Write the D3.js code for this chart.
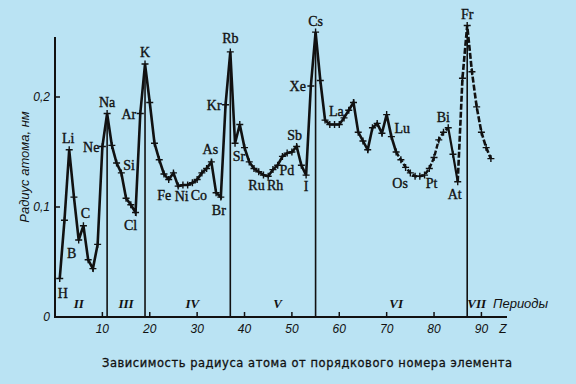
<!DOCTYPE html>
<html>
<head>
<meta charset="utf-8">
<script src="https://cdn.jsdelivr.net/npm/d3@7"></script>
<style>
  body { margin: 0; background: #bae3f3; }
  svg { display: block; }
  .el { font-family: "Liberation Serif", serif; font-size: 14px; fill: #111; stroke: #111; stroke-width: 0.35; }
  .tick { font-family: "Liberation Sans", sans-serif; font-style: italic; font-size: 12px; fill: #111; }
  .roman { font-family: "Liberation Serif", serif; font-style: italic; font-weight: bold; font-size: 13px; fill: #111; }
</style>
</head>
<body>
<svg width="576" height="384"></svg>
<script>
const width = 576;
const height = 384;

// atomic number Z = 1..92, radius in nm
const symbols = ["H","He","Li","Be","B","C","N","O","F","Ne",
  "Na","Mg","Al","Si","P","S","Cl","Ar","K","Ca",
  "Sc","Ti","V","Cr","Mn","Fe","Co","Ni","Cu","Zn",
  "Ga","Ge","As","Se","Br","Kr","Rb","Sr","Y","Zr",
  "Nb","Mo","Tc","Ru","Rh","Pd","Ag","Cd","In","Sn",
  "Sb","Te","I","Xe","Cs","Ba","La","Ce","Pr","Nd",
  "Pm","Sm","Eu","Gd","Tb","Dy","Ho","Er","Tm","Yb",
  "Lu","Hf","Ta","W","Re","Os","Ir","Pt","Au","Hg",
  "Tl","Pb","Bi","Po","At","Rn","Fr","Ra","Ac","Th",
  "Pa","U"];
const radius = [0.035,0.088,0.152,0.109,0.070,0.083,0.052,0.044,0.066,0.155,
  0.185,0.156,0.140,0.131,0.108,0.102,0.095,0.185,0.230,0.195,
  0.158,0.143,0.130,0.125,0.131,0.119,0.120,0.120,0.122,0.125,
  0.131,0.135,0.141,0.113,0.109,0.193,0.241,0.158,0.175,0.154,
  0.141,0.135,0.132,0.129,0.128,0.134,0.138,0.146,0.149,0.150,
  0.155,0.138,0.129,0.210,0.259,0.215,0.179,0.175,0.175,0.175,
  0.181,0.188,0.195,0.168,0.160,0.152,0.172,0.176,0.167,0.184,
  0.164,0.150,0.143,0.136,0.131,0.128,0.128,0.129,0.135,0.145,
  0.161,0.168,0.172,0.148,0.123,0.217,0.265,0.223,0.191,0.168,
  0.154,0.144];

const labelled = ["H","Li","B","C","Ne","Na","Si","Cl","Ar","K","Fe","Ni","Co","As","Br","Kr",
  "Rb","Sr","Ru","Rh","Pd","Sb","I","Xe","Cs","La","Lu","Os","Pt","Bi","At","Fr"];
const alkali = [11, 19, 37, 55, 87];
const periods = ["II","III","IV","V","VI","VII"];
const periodZ = [5, 15, 29, 47, 72, 89];
const xTicks = [10, 20, 30, 40, 50, 60, 70, 80, 90];
const yTicks = [0, 0.1, 0.2];

const data = radius.map((r, i) => ({ z: i + 1, r: r, s: symbols[i] }));

const x = d3.scaleLinear().domain([0, 95.4]).range([55, 507]);
const y = d3.scaleLinear().domain([0, 0.2]).range([317, 97]);

const svg = d3.select("svg");
const ink = "#111";

// axes
svg.append("line").attr("x1", x(0)).attr("x2", x(0)).attr("y1", y(0)).attr("y2", 37)
  .attr("stroke", ink).attr("stroke-width", 2);
svg.append("line").attr("x1", x(0) - 1).attr("x2", x(95.4)).attr("y1", y(0)).attr("y2", y(0))
  .attr("stroke", ink).attr("stroke-width", 2);

svg.append("g").selectAll("line").data(xTicks).join("line")
  .attr("x1", d => x(d)).attr("x2", d => x(d)).attr("y1", y(0)).attr("y2", y(0) - 5)
  .attr("stroke", ink).attr("stroke-width", 1.5);
svg.append("g").selectAll("text").data(xTicks).join("text")
  .attr("class", "tick").attr("x", d => x(d)).attr("y", 333).attr("text-anchor", "middle")
  .text(d => d);
svg.append("text").attr("class", "tick").attr("x", 503).attr("y", 333)
  .attr("text-anchor", "middle").text("Z");

svg.append("g").selectAll("line").data(yTicks.filter(d => d > 0)).join("line")
  .attr("x1", x(0)).attr("x2", x(0) + 5).attr("y1", d => y(d)).attr("y2", d => y(d))
  .attr("stroke", ink).attr("stroke-width", 1.5);
svg.append("g").selectAll("text").data(yTicks).join("text")
  .attr("class", "tick").attr("x", 50).attr("y", d => y(d) + 4).attr("text-anchor", "end")
  .text(d => d === 0 ? "0" : d3.format(".1f")(d).replace(".", ","));

svg.append("text").attr("class", "tick").attr("transform", "translate(29,167) rotate(-90)")
  .attr("text-anchor", "middle").style("font-size", "13px").text("Радиус атома, нм");

// period separators
svg.append("g").selectAll("line").data(alkali).join("line")
  .attr("x1", d => x(d)).attr("x2", d => x(d))
  .attr("y1", d => y(radius[d - 1])).attr("y2", y(0))
  .attr("stroke", ink).attr("stroke-width", 1.6);

// curve
const line = d3.line().x(d => x(d.z)).y(d => y(d.r));
svg.append("path").datum(data.filter(d => d.z <= 72))
  .attr("d", line).attr("fill", "none").attr("stroke", ink).attr("stroke-width", 2.6)
  .attr("stroke-linejoin", "miter");
svg.append("path").datum(data.filter(d => d.z >= 72 && d.z <= 83))
  .attr("d", line).attr("fill", "none").attr("stroke", ink).attr("stroke-width", 2.4)
  .attr("stroke-dasharray", "5,2");
svg.append("path").datum(data.filter(d => d.z >= 83 && d.z <= 85))
  .attr("d", line).attr("fill", "none").attr("stroke", ink).attr("stroke-width", 2.2);
svg.append("path").datum(data.filter(d => d.z >= 85))
  .attr("d", line).attr("fill", "none").attr("stroke", ink).attr("stroke-width", 2.6)
  .attr("stroke-dasharray", "6,2");

// plus markers
svg.append("g").selectAll("path").data(data).join("path")
  .attr("d", d => {
    const px = x(d.z), py = y(d.r);
    return `M${px - 3.5},${py}H${px + 3.5}M${px},${py - 3.5}V${py + 3.5}`;
  })
  .attr("stroke", ink).attr("stroke-width", 1.4);

// element labels: [dx, dy, anchor]
const offs = {
  H: [3, 19, "middle"], Li: [-1, -7, "middle"], B: [-7, 18, "middle"], C: [2, -8, "middle"],
  Ne: [-3, 5, "end"], Na: [0, -7, "middle"], Si: [2, -3, "start"], Cl: [-5, 17, "middle"],
  Ar: [-4, 5, "end"], K: [0, -7, "middle"], Fe: [-14, 14, "middle"], Ni: [-6, 16, "middle"],
  Co: [16, 15, "middle"], As: [-1, -8, "middle"], Br: [-2, 18, "middle"], Kr: [-4, 5, "end"],
  Rb: [0, -9, "middle"], Sr: [4, 18, "middle"], Ru: [-7, 15, "middle"], Rh: [7, 14, "middle"],
  Pd: [14, 5, "middle"], Sb: [-2, -7, "middle"], I: [0, 16, "middle"], Xe: [-5, 5, "end"],
  Cs: [0, -6, "middle"], La: [4, -4, "start"], Lu: [3, -4, "start"], Os: [-15, 12, "middle"],
  Pt: [7, 13, "middle"], Bi: [-5, -6, "middle"], At: [-3, 17, "middle"], Fr: [0, -7, "middle"]
};
svg.append("g").selectAll("text").data(data.filter(d => labelled.includes(d.s))).join("text")
  .attr("class", "el")
  .attr("x", d => x(d.z) + offs[d.s][0])
  .attr("y", d => y(d.r) + offs[d.s][1])
  .attr("text-anchor", d => offs[d.s][2])
  .text(d => d.s);

// period numbers
svg.append("g").selectAll("text").data(periods).join("text")
  .attr("class", "roman").attr("x", (d, i) => x(periodZ[i])).attr("y", 308)
  .attr("text-anchor", "middle").text(d => d);
svg.append("text").attr("class", "tick").attr("x", 493).attr("y", 308)
  .style("font-size", "13px").text("Периоды");

svg.append("text").attr("x", 307).attr("y", 367).attr("text-anchor", "middle")
  .attr("font-family", "DejaVu Sans, sans-serif").attr("font-size", 11.5)
  .attr("textLength", 410).attr("lengthAdjust", "spacing").attr("fill", ink)
  .attr("stroke", ink).attr("stroke-width", 0.3)
  .text("Зависимость радиуса атома от порядкового номера элемента");
</script>
</body>
</html>
